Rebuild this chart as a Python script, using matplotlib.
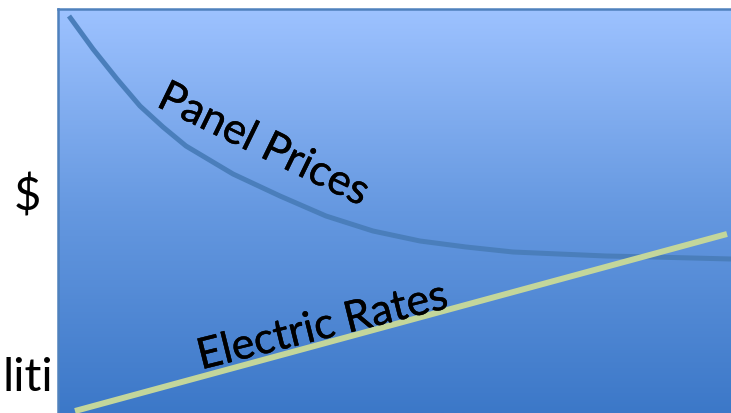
import numpy as np
import matplotlib.pyplot as plt
import matplotlib.patheffects as pe
from matplotlib.colors import LinearSegmentedColormap

plt.rcParams['font.family'] = ['Lato', 'DejaVu Sans']

# curve samples, x along the time axis, y in dollars (arbitrary units)
panel_x = [11, 35, 59, 82, 105, 128, 175, 222, 268, 315, 362, 408, 455, 501, 548, 595, 673]
panel_y = [397, 364, 334, 307, 286, 267, 239, 217, 197, 182, 172, 166, 161, 159, 157, 156, 154]

rate_x = [17, 669]
rate_y = [2, 179]

fig = plt.figure(figsize=(7.31, 4.14), dpi=100)
ax = fig.add_axes([58 / 731, 0, 673 / 731, 404 / 414])
ax.set_xlim(0, 673)
ax.set_ylim(0, 404)

# vertical blue gradient background
grad = LinearSegmentedColormap.from_list('bg', ['#3c78c8', '#6598e0', '#9dc2ff'])
ax.imshow(np.linspace(0, 1, 256).reshape(-1, 1), cmap=grad, origin='lower',
          extent=[0, 673, 0, 404], aspect='auto', zorder=0)

ax.plot(panel_x, panel_y, color='#4a7ebb', lw=3.6, solid_capstyle='butt',
        solid_joinstyle='round', zorder=2)
ax.plot(rate_x, rate_y, color='#c3d69b', lw=4.3, solid_capstyle='butt', zorder=3)

# a touch heavier than plain Lato
heavy = [pe.withStroke(linewidth=0.3, foreground='black')]

ax.text(205, 268, 'Panel Prices', fontsize=31, rotation=-26,
        ha='center', va='center', rotation_mode='anchor', zorder=4,
        path_effects=heavy)
ax.text(264, 86, 'Electric Rates', fontsize=31, rotation=14,
        ha='center', va='center', rotation_mode='anchor', zorder=4,
        path_effects=heavy)

ax.set_xticks([])
ax.set_yticks([])
for side in ('right', 'bottom'):
    ax.spines[side].set_visible(False)
for side in ('top', 'left'):
    ax.spines[side].set_color('#4f81bd')
    ax.spines[side].set_linewidth(1.8)

fig.text(27 / 731, 1 - 197 / 414, '$', fontsize=34, ha='center', va='center')
fig.text(53 / 731, 1 - 391 / 414, 'liti', fontsize=34, ha='right', va='baseline')

fig.savefig('out.png', dpi=100)
